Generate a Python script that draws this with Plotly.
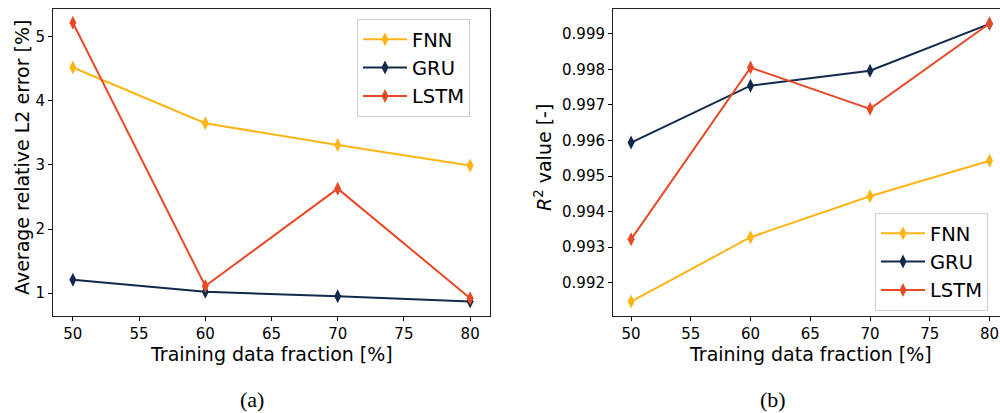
import plotly.graph_objects as go

fractions = [50, 60, 70, 80]
series_names = ["FNN", "GRU", "LSTM"]
colors = {"FNN": "#FDB515", "GRU": "#13294B", "LSTM": "#E84A27"}

l2_error = {
    "FNN": [4.52, 3.65, 3.31, 2.99],
    "GRU": [1.21, 1.02, 0.95, 0.87],
    "LSTM": [5.22, 1.11, 2.63, 0.92],
}
r2_value = {
    "FNN": [0.99147, 0.99328, 0.99443, 0.99543],
    "GRU": [0.99594, 0.99754, 0.99796, 0.99928],
    "LSTM": [0.99322, 0.99805, 0.99689, 0.99929],
}

x_ticks = [50, 55, 60, 65, 70, 75, 80]
y1_ticks = [1, 2, 3, 4, 5]
y2_ticks = [0.992, 0.993, 0.994, 0.995, 0.996, 0.997, 0.998, 0.999]

fig = go.Figure()
for name in series_names:
    fig.add_trace(go.Scatter(
        x=fractions, y=l2_error[name], name=name, mode="lines+markers",
        line=dict(color=colors[name], width=2),
        marker=dict(symbol="diamond-tall", size=10, color=colors[name]),
        xaxis="x", yaxis="y", legend="legend"))
for name in series_names:
    fig.add_trace(go.Scatter(
        x=fractions, y=r2_value[name], name=name, mode="lines+markers",
        line=dict(color=colors[name], width=2),
        marker=dict(symbol="diamond-tall", size=10, color=colors[name]),
        xaxis="x2", yaxis="y2", legend="legend2"))

W, H = 1000, 413
def px(x):
    return x / W
def py(y):
    return 1 - y / H

tickfont = dict(family="DejaVu Sans", size=15, color="black")
axis_common = dict(showgrid=False, zeroline=False, ticks="outside", ticklen=4,
                   tickwidth=1, tickcolor="black", showline=True, linecolor="#222",
                   linewidth=1, tickfont=tickfont)

legend_font = dict(family="DejaVu Sans", size=19.5, color="black")
fig.update_layout(
    width=W, height=H, margin=dict(l=0, r=0, t=0, b=0),
    paper_bgcolor="white", plot_bgcolor="white",
    xaxis=dict(domain=[px(53), px(490)], range=[48.5, 81.5], tickvals=x_ticks,
               anchor="y", mirror=True, **axis_common),
    yaxis=dict(domain=[py(316), py(9)], range=[0.6425, 5.4335], tickvals=y1_ticks,
               anchor="x", mirror=True, **axis_common),
    xaxis2=dict(domain=[px(613), 1.0], range=[48.49, 80.88], tickvals=x_ticks,
                anchor="y2", mirror=True, **axis_common),
    yaxis2=dict(domain=[py(316), py(9)], range=[0.991065, 0.999697], tickvals=y2_ticks,
                tickformat=".3f", anchor="x2", mirror=False, **axis_common),
    legend=dict(x=px(357), y=py(19), xanchor="left", yanchor="top",
                bgcolor="white", bordercolor="#d0d0d0", borderwidth=1,
                font=legend_font, itemwidth=44, tracegroupgap=0),
    legend2=dict(x=px(875), y=py(213), xanchor="left", yanchor="top",
                 bgcolor="white", bordercolor="#d0d0d0", borderwidth=1,
                 font=legend_font, itemwidth=44, tracegroupgap=0),
    showlegend=True,
)

title_font = dict(family="DejaVu Sans", size=19, color="black")
annotations = [
    dict(text="Training data fraction [%]", x=px(271.5), y=py(354), xref="paper", yref="paper",
         xanchor="center", yanchor="middle", showarrow=False, font=title_font),
    dict(text="Training data fraction [%]", x=px(810), y=py(354), xref="paper", yref="paper",
         xanchor="center", yanchor="middle", showarrow=False, font=title_font),
    dict(text="Average relative L2 error [%]", x=px(22), y=py(158), xref="paper", yref="paper",
         xanchor="center", yanchor="middle", showarrow=False, textangle=-90, font=title_font),
    dict(text="<i>R</i><sup>2</sup> value [-]", x=px(543), y=py(158), xref="paper", yref="paper",
         xanchor="center", yanchor="middle", showarrow=False, textangle=-90, font=title_font),
    dict(text="(a)", x=px(252), y=py(399), xref="paper", yref="paper",
         xanchor="center", yanchor="middle", showarrow=False,
         font=dict(family="Liberation Serif", size=22, color="black")),
    dict(text="(b)", x=px(773), y=py(399), xref="paper", yref="paper",
         xanchor="center", yanchor="middle", showarrow=False,
         font=dict(family="Liberation Serif", size=22, color="black")),
]
fig.update_layout(annotations=annotations)

fig.write_html("out.html")
